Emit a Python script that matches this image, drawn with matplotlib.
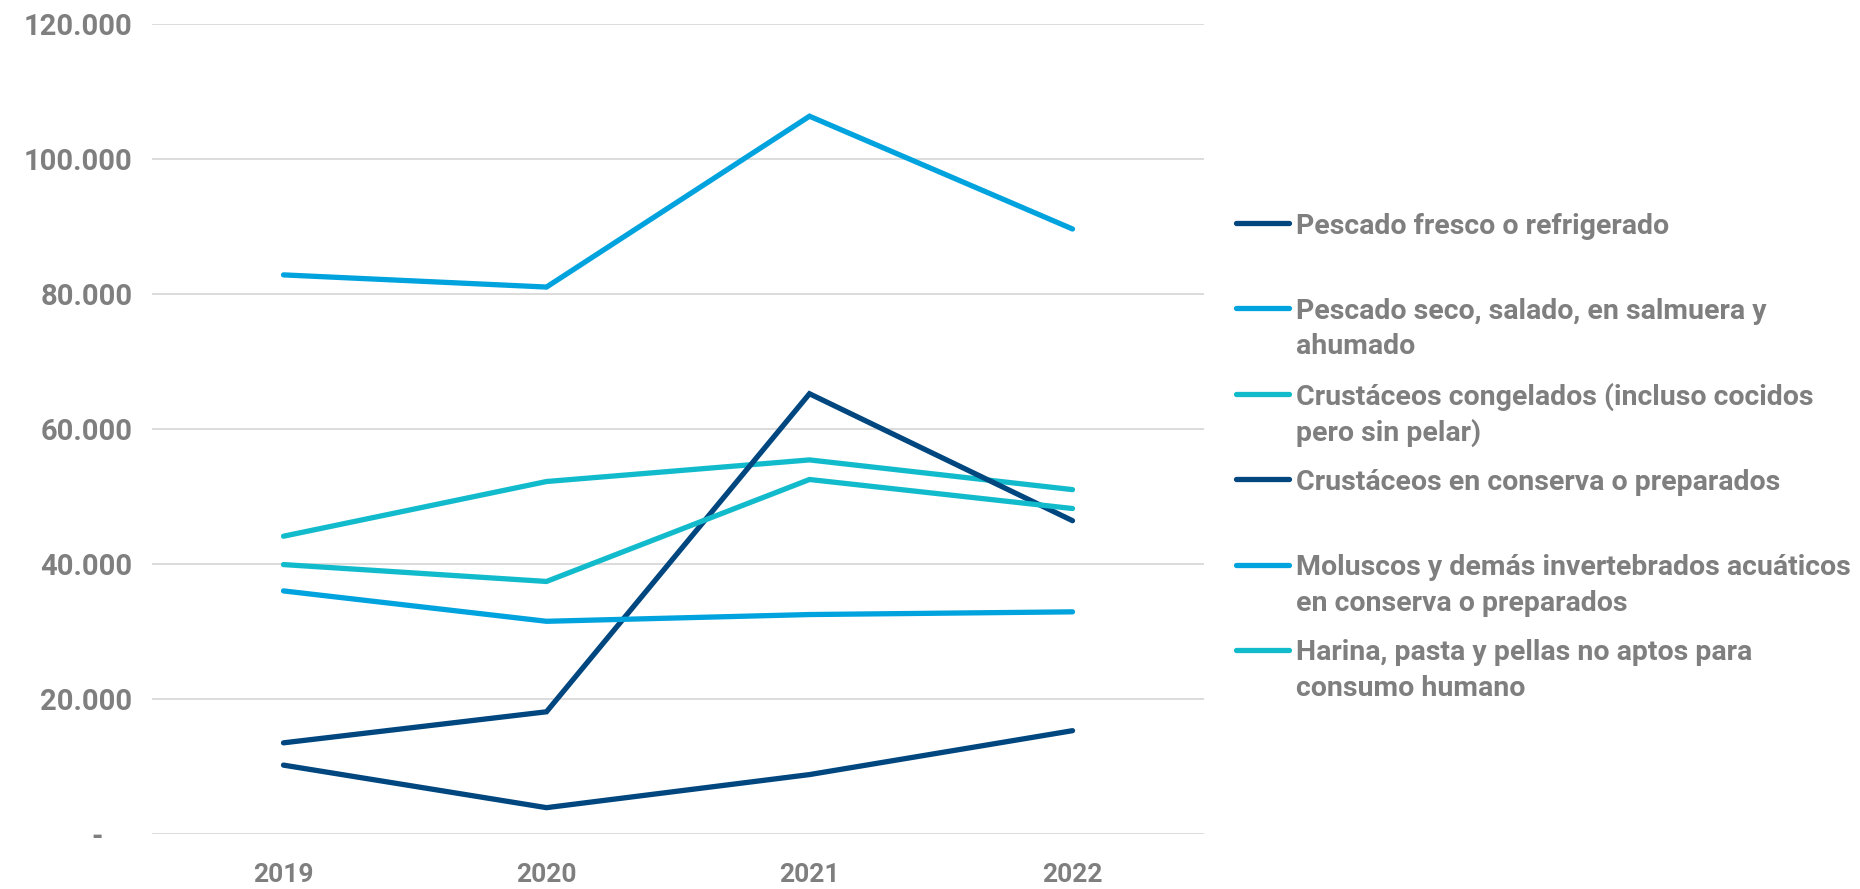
import matplotlib.pyplot as plt
from matplotlib.lines import Line2D

years = ['2019', '2020', '2021', '2022']

fresco = [10200, 3900, 8800, 15300]
seco = [82800, 81000, 106300, 89600]
congelados = [44100, 52200, 55400, 51000]
conserva = [13500, 18100, 65200, 46400]
moluscos = [36000, 31500, 32500, 32900]
harina = [39900, 37400, 52500, 48200]

labels = ['Pescado fresco o refrigerado',
          'Pescado seco, salado, en salmuera y\nahumado',
          'Crustáceos congelados (incluso cocidos\npero sin pelar)',
          'Crustáceos en conserva o preparados',
          'Moluscos y demás invertebrados acuáticos\nen conserva o preparados',
          'Harina, pasta y pellas no aptos para\nconsumo humano']

yticks = [0, 20000, 40000, 60000, 80000, 100000, 120000]
ytick_labels = ['-    ', '20.000', '40.000', '60.000', '80.000', '100.000', '120.000']

navy = '#00467F'
light = '#00A3DE'
teal = '#12BBCB'
colors = [navy, light, teal, navy, light, teal]
grey = '#7F7F7F'

series = [fresco, seco, congelados, conserva, moluscos, harina]

fig = plt.figure(figsize=(18.6, 8.89), dpi=100)
ax = fig.add_axes([152/1860, 1 - 834/889, (1204-152)/1860, (834-23.7)/889])

x = range(len(years))
for vals, c in zip(series, colors):
    ax.plot(x, vals, color=c, linewidth=3.8, solid_capstyle='round', solid_joinstyle='miter')

ax.set_xlim(-0.5, 3.5)
ax.set_ylim(0, 120000)
ax.set_yticks(yticks)
ax.set_yticklabels(ytick_labels)
ax.set_xticks(list(x))
ax.set_xticklabels(years)
ax.grid(axis='y', color='#D9D9D9', linewidth=1.3)
ax.set_axisbelow(True)
for s in ax.spines.values():
    s.set_visible(False)
ax.tick_params(length=0)
ax.tick_params(axis='y', pad=14)
ax.tick_params(axis='x', pad=21)
for t in ax.get_yticklabels():
    t.set_fontfamily('Roboto'); t.set_fontweight('bold'); t.set_fontsize(21); t.set_color(grey)
for t in ax.get_xticklabels():
    t.set_fontfamily('Roboto'); t.set_fontweight('bold'); t.set_fontsize(19); t.set_color(grey)

# legend drawn by hand so that handles line up with the first text line
y0 = 1 - 223/889
step = 85.4/889
line_step = 35.6/889
for i, (lab, c) in enumerate(zip(labels, colors)):
    yy = y0 - i*step
    fig.add_artist(Line2D([1236/1860, 1289/1860], [yy, yy], color=c, linewidth=3.8,
                          solid_capstyle='round', transform=fig.transFigure))
    for k, part in enumerate(lab.split('\n')):
        fig.text(1296/1860, yy - k*line_step, part, fontfamily='Roboto', fontweight='bold',
                 fontsize=20.5, color=grey, va='center_baseline', ha='left')

fig.savefig('out.png', dpi=100)
